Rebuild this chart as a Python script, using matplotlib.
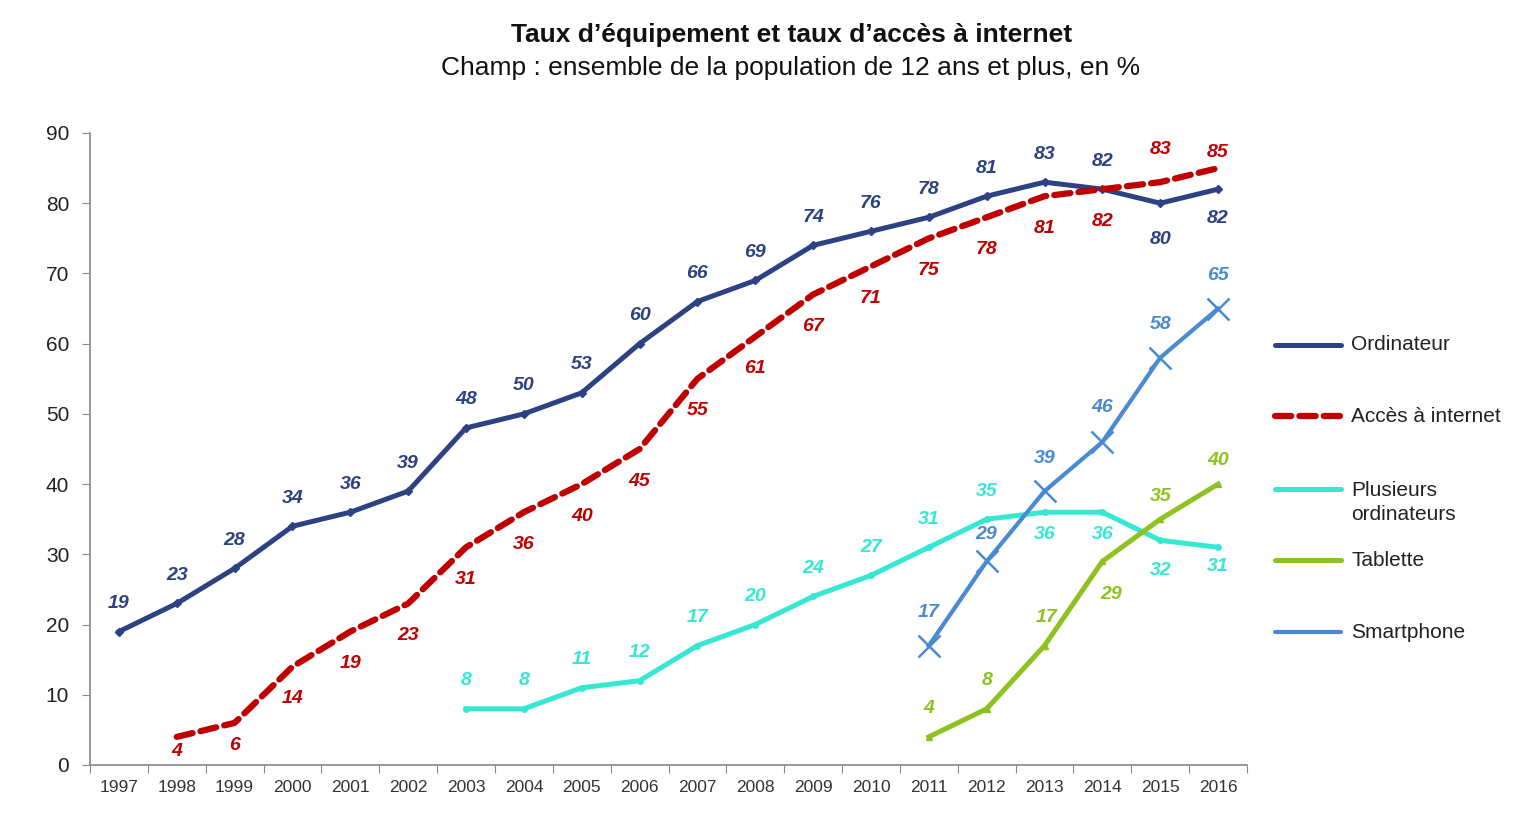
import matplotlib
matplotlib.use("Agg")
import matplotlib.pyplot as plt
from matplotlib.lines import Line2D

plt.rcParams["font.family"] = ["Liberation Sans", "DejaVu Sans"]

# =========================
# Data
# =========================
years = [str(y) for y in range(1997, 2017)]

ordinateur = [19, 23, 28, 34, 36, 39, 48, 50, 53, 60, 66, 69, 74, 76, 78, 81, 83, 82, 80, 82]
acces_start = 1  # 1998
acces = [4, 6, 14, 19, 23, 31, 36, 40, 45, 55, 61, 67, 71, 75, 78, 81, 82, 83, 85]
plusieurs_start = 6  # 2003
plusieurs = [8, 8, 11, 12, 17, 20, 24, 27, 31, 35, 36, 36, 32, 31]
tablette_start = 14  # 2011
tablette = [4, 8, 17, 29, 35, 40]
smartphone_start = 14  # 2011
smartphone = [17, 29, 39, 46, 58, 65]

# label placement (pixel offsets, + = above)
ord_dy = [28] * 18 + [-36, -29]
acc_dy = [-15, -23] + [-32] * 15 + [33, 16]
plu_dy = [28] * 10 + [-22, -22, -30, -19]
tab_dy = [28, 28, 28, -33, 23, 24]
tab_dx = [0, 0, 2, 9, 0, 0]
sma_dy = [33, 27, 33, 34, 33, 33]

C_ORD = "#2C4283"
C_ACC = "#C00000"
C_PLU = "#36E8D2"
C_TAB = "#8DC21F"
C_SMA = "#4A8AD4"

W, H = 1522, 834
fig = plt.figure(figsize=(W / 100, H / 100), dpi=100)
ax = fig.add_axes([90 / W, 1 - 765 / H, (1247 - 90) / W, (765 - 133) / H])


def series(ax, start, vals, color, dy, dx=None, **kw):
    x = list(range(start, start + len(vals)))
    ax.plot(x, vals, color=color, **kw)
    if dx is None:
        dx = [0] * len(vals)
    for xi, v, oy, ox in zip(x, vals, dy, dx):
        ax.annotate(str(v), (xi, v), xytext=(ox, oy), textcoords="offset pixels",
                    ha="center", va="center", color=color, fontsize=14,
                    fontweight="bold", fontstyle="italic")


series(ax, 0, ordinateur, C_ORD, ord_dy, lw=3.6, marker="D", ms=4, zorder=3)
series(ax, acces_start, acces, C_ACC, acc_dy, lw=4.5, dashes=(2.6, 1.3),
       dash_capstyle="round", zorder=4)
series(ax, plusieurs_start, plusieurs, C_PLU, plu_dy, lw=3.6, marker="o", ms=4, zorder=5)
series(ax, tablette_start, tablette, C_TAB, tab_dy, tab_dx, lw=3.6, marker="^", ms=5, zorder=6)
series(ax, smartphone_start, smartphone, C_SMA, sma_dy, lw=3.0, marker="x", ms=16,
       mew=1.8, zorder=7)

# =========================
# Axes
# =========================
ax.set_xlim(-0.5, len(years) - 0.5)
ax.set_ylim(0, 90)
ax.set_yticks(range(0, 91, 10))
ax.set_xticks([i + 0.5 for i in range(-1, len(years))])
ax.set_xticklabels([])
ax.set_xticks(range(len(years)), minor=True)
ax.set_xticklabels(years, minor=True)
ax.tick_params(axis="x", which="major", length=6, color="#888888", direction="out")
ax.tick_params(axis="x", which="minor", length=0, labelsize=12.5, labelcolor="#333333", pad=11)
ax.tick_params(axis="y", length=6, color="#888888", labelsize=15, labelcolor="#222222", pad=9)
for s in ("top", "right"):
    ax.spines[s].set_visible(False)
for s in ("left", "bottom"):
    ax.spines[s].set_color("#888888")
    ax.spines[s].set_linewidth(1.2)

# =========================
# Legend (drawn by hand)
# =========================
legend = [
    ("Ordinateur", C_ORD, dict(lw=3.6), 345),
    ("Accès à internet", C_ACC, dict(lw=4.5, dashes=(2.6, 1.3), dash_capstyle="round"), 416),
    ("Plusieurs\nordinateurs", C_PLU, dict(lw=3.6), 489),
    ("Tablette", C_TAB, dict(lw=3.6), 560),
    ("Smartphone", C_SMA, dict(lw=3.0), 632),
]
for label, color, kw, ypix in legend:
    y = 1 - ypix / H
    fig.add_artist(Line2D([1275 / W, 1341 / W], [y, y], color=color,
                          solid_capstyle="round", transform=fig.transFigure, **kw))
    if "\n" in label:
        fig.text(1351 / W, 1 - (ypix - 8) / H, label, fontsize=15, color="#222222",
                 va="top", linespacing=1.3)
    else:
        fig.text(1351 / W, y, label, fontsize=15, color="#222222", va="center")

# =========================
# Titles
# =========================
fig.text(792 / W, 1 - 35 / H, "Taux d’équipement et taux d’accès à internet",
         ha="center", va="center", fontsize=19, fontweight="bold", color="#111111")
fig.text(791 / W, 1 - 68 / H, "Champ : ensemble de la population de 12 ans et plus, en %",
         ha="center", va="center", fontsize=19, color="#111111")

fig.savefig("out.png", dpi=100)
